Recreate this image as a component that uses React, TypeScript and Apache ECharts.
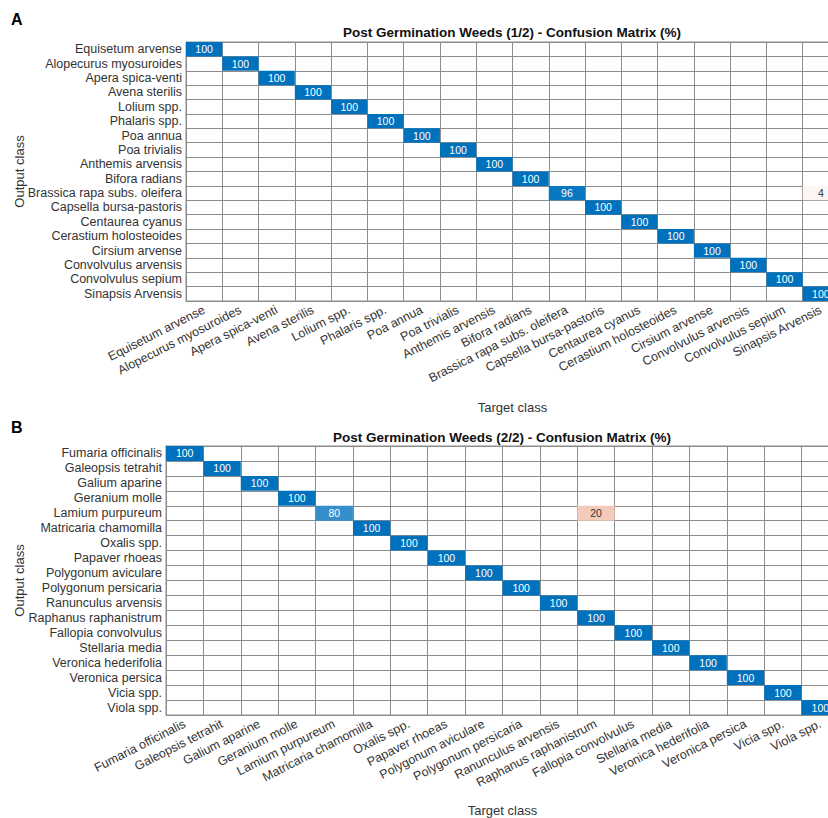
import React, { useEffect, useRef } from "react";
import * as echarts from "echarts";

const classesA = [
  "Equisetum arvense", "Alopecurus myosuroides", "Apera spica-venti", "Avena sterilis",
  "Lolium spp.", "Phalaris spp.", "Poa annua", "Poa trivialis", "Anthemis arvensis",
  "Bifora radians", "Brassica rapa subs. oleifera", "Capsella bursa-pastoris",
  "Centaurea cyanus", "Cerastium holosteoides", "Cirsium arvense", "Convolvulus arvensis",
  "Convolvulus sepium", "Sinapsis Arvensis",
];
const diagA = [100, 100, 100, 100, 100, 100, 100, 100, 100, 100, 96, 100, 100, 100, 100, 100, 100, 100];
const offRowsA = [10];
const offColsA = [17];
const offValsA = [4];

const classesB = [
  "Fumaria officinalis", "Galeopsis tetrahit", "Galium aparine", "Geranium molle",
  "Lamium purpureum", "Matricaria chamomilla", "Oxalis spp.", "Papaver rhoeas",
  "Polygonum aviculare", "Polygonum persicaria", "Ranunculus arvensis",
  "Raphanus raphanistrum", "Fallopia convolvulus", "Stellaria media",
  "Veronica hederifolia", "Veronica persica", "Vicia spp.", "Viola spp.",
];
const diagB = [100, 100, 100, 100, 80, 100, 100, 100, 100, 100, 100, 100, 100, 100, 100, 100, 100, 100];
const offRowsB = [4];
const offColsB = [11];
const offValsB = [20];

const titleA = "Post Germination Weeds (1/2) - Confusion Matrix (%)";
const titleB = "Post Germination Weeds (2/2) - Confusion Matrix (%)";

const FONT = "'Liberation Sans', Arial, Helvetica, sans-serif";
const BLUE = [0, 114, 189];
const ORANGE = [217, 83, 25];
const LINE = "#8c8c8c";

function blend(c: number[], t: number) {
  const k = Math.max(0, Math.min(1, t));
  const r = Math.round(255 + (c[0] - 255) * k);
  const g = Math.round(255 + (c[1] - 255) * k);
  const b = Math.round(255 + (c[2] - 255) * k);
  return `rgb(${r},${g},${b})`;
}

// value: [col, row, percent, isDiagonal]
function buildCells(diag: number[], rows: number[], cols: number[], vals: number[]) {
  const out: number[][] = [];
  diag.forEach((v, i) => out.push([i, i, v, 1]));
  vals.forEach((v, k) => out.push([cols[k], rows[k], v, 0]));
  return out;
}

function renderCell(_params: any, api: any) {
  const col = api.value(0);
  const row = api.value(1);
  const v = api.value(2);
  const isDiag = api.value(3) === 1;
  const c = api.coord([col, row]);
  const s = api.size([1, 1]);
  const fill = isDiag ? blend(BLUE, v / 100) : blend(ORANGE, (v / 100) * 1.5);
  return {
    type: "rect",
    shape: { x: c[0] - s[0] / 2, y: c[1] - s[1] / 2, width: s[0], height: s[1] },
    style: { fill },
    textContent: {
      style: {
        text: String(v),
        fill: isDiag ? "#ffffff" : "#333333",
        fontFamily: FONT,
        fontSize: 10.5,
      },
    },
    textConfig: { position: "inside" },
  };
}

function xAxisFor(cats: string[], gridIndex: number, nameGap: number) {
  return {
    type: "category",
    gridIndex,
    data: cats,
    name: "Target class",
    nameLocation: "middle",
    nameGap,
    nameTextStyle: { fontFamily: FONT, fontSize: 13, color: "#333" },
    axisLine: { show: true, lineStyle: { color: LINE, width: 1 } },
    axisTick: { show: false },
    splitLine: { show: true, lineStyle: { color: LINE, width: 1 } },
    axisLabel: {
      interval: 0,
      rotate: 27,
      margin: 8,
      fontFamily: FONT,
      fontSize: 12.5,
      color: "#333",
    },
  };
}

function yAxisFor(cats: string[], gridIndex: number, nameGap: number) {
  return {
    type: "category",
    gridIndex,
    data: cats,
    inverse: true,
    name: "Output class",
    nameLocation: "middle",
    nameGap,
    nameMoveOverlap: false,
    nameTextStyle: { fontFamily: FONT, fontSize: 13, color: "#333" },
    axisLine: { show: true, lineStyle: { color: LINE, width: 1 } },
    axisTick: { show: false },
    splitLine: { show: true, lineStyle: { color: LINE, width: 1 } },
    axisLabel: {
      interval: 0,
      margin: 4,
      fontFamily: FONT,
      fontSize: 12.5,
      color: "#333",
    },
  };
}

export default function App() {
  const ref = useRef<HTMLDivElement>(null);
  useEffect(() => {
    if (!ref.current) return;
    const chart = echarts.init(ref.current, undefined, { renderer: "svg" });
    chart.setOption({
      animation: false,
      backgroundColor: "#ffffff",
      title: [
        {
          text: titleA,
          left: 512,
          top: 25,
          padding: 0,
          textAlign: "center",
          textStyle: { fontFamily: FONT, fontSize: 13.5, fontWeight: "bold", color: "#111" },
        },
        {
          text: titleB,
          left: 502,
          top: 430,
          padding: 0,
          textAlign: "center",
          textStyle: { fontFamily: FONT, fontSize: 13.5, fontWeight: "bold", color: "#111" },
        },
      ],
      graphic: [
        { type: "text", left: 11, top: 11, style: { text: "A", fontFamily: FONT, fontSize: 16, fontWeight: "bold", fill: "#000" } },
        { type: "text", left: 11, top: 419, style: { text: "B", fontFamily: FONT, fontSize: 16, fontWeight: "bold", fill: "#000" } },
      ],
      grid: [
        { left: 186, top: 42, width: 653, height: 259, outerBoundsMode: "none", containLabel: false, show: true, borderColor: LINE, borderWidth: 1, backgroundColor: "transparent" },
        { left: 166, top: 446, width: 673, height: 269, outerBoundsMode: "none", containLabel: false, show: true, borderColor: LINE, borderWidth: 1, backgroundColor: "transparent" },
      ],
      xAxis: [xAxisFor(classesA, 0, 100), xAxisFor(classesB, 1, 89)],
      yAxis: [yAxisFor(classesA, 0, 160), yAxisFor(classesB, 1, 140)],
      series: [
        {
          type: "custom",
          xAxisIndex: 0,
          yAxisIndex: 0,
          clip: false,
          data: buildCells(diagA, offRowsA, offColsA, offValsA),
          renderItem: renderCell,
        },
        {
          type: "custom",
          xAxisIndex: 1,
          yAxisIndex: 1,
          clip: false,
          data: buildCells(diagB, offRowsB, offColsB, offValsB),
          renderItem: renderCell,
        },
      ],
    });
    return () => chart.dispose();
  }, []);
  return (
    <div
      ref={ref}
      style={{ position: "absolute", left: 0, top: 0, width: 828, height: 818, overflow: "hidden" }}
    />
  );
}
